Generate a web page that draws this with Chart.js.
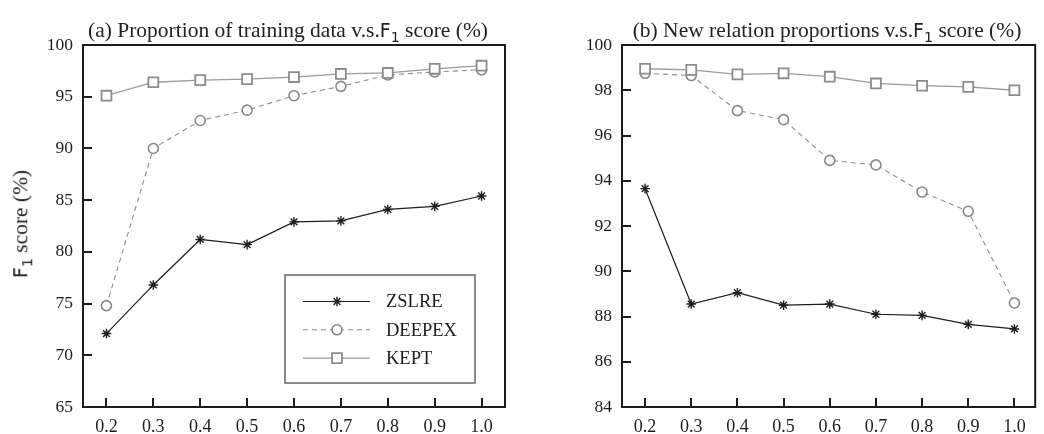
<!DOCTYPE html>
<html>
<head>
<meta charset="utf-8">
<script src="https://cdn.jsdelivr.net/npm/chart.js@4.4.0/dist/chart.umd.min.js"></script>
<style>
  html, body { margin: 0; padding: 0; background: #fff; }
  #wrap { position: relative; width: 1044px; height: 434px; overflow: hidden; }
  canvas { position: absolute; top: 0; }
  .title {
    position: absolute; top: 19px; transform: translateX(-50%);
    white-space: nowrap; font-family: "Liberation Serif", serif;
    font-size: 21.5px; line-height: 22px; color: #222;
  }
  .ylab {
    position: absolute; left: 22px; top: 224px;
    transform: translate(-50%, -50%) rotate(-90deg);
    white-space: nowrap; font-family: "Liberation Serif", serif;
    font-size: 21.5px; line-height: 21.5px; color: #222;
  }
  .sf { font-family: "DejaVu Sans", "Liberation Sans", sans-serif; font-size: 0.88em; }
  .sub { font-size: 0.75em; position: relative; top: 0.32em; }
</style>
</head>
<body>
<div id="wrap">
  <canvas id="left" width="520" height="434" style="left:0px"></canvas>
  <canvas id="right" width="524" height="434" style="left:520px"></canvas>
  <div class="title" style="left:288px">(a) Proportion of training data v.s.<span class="sf">F<span class="sub">1</span></span> score (%)</div>
  <div class="title" style="left:827px">(b) New relation proportions v.s.<span class="sf">F<span class="sub">1</span></span> score (%)</div>
  <div class="ylab"><span class="sf">F<span class="sub">1</span></span> score (%)</div>
</div>
<script>
// x positions shared by both panels
const proportions = [0.2, 0.3, 0.4, 0.5, 0.6, 0.7, 0.8, 0.9, 1.0];
const seriesNames = ["ZSLRE", "DEEPEX", "KEPT"];

// (a) proportion of training data
const trainZSLRE  = [72.1, 76.8, 81.2, 80.7, 82.9, 83.0, 84.1, 84.4, 85.4];
const trainDEEPEX = [74.8, 90.0, 92.7, 93.7, 95.1, 96.0, 97.1, 97.4, 97.6];
const trainKEPT   = [95.1, 96.4, 96.6, 96.7, 96.9, 97.2, 97.3, 97.7, 98.0];

// (b) new relation proportions
const newZSLRE  = [93.65, 88.55, 89.05, 88.5, 88.55, 88.1, 88.05, 87.65, 87.45];
const newDEEPEX = [98.75, 98.65, 97.1, 96.7, 94.9, 94.7, 93.5, 92.65, 88.6];
const newKEPT   = [98.95, 98.9, 98.7, 98.75, 98.6, 98.3, 98.2, 98.15, 98.0];

const X_FONT = { family: "'Liberation Serif', serif", size: 18 };
const Y_FONT = { family: "'Liberation Serif', serif", size: 17.5 };
const INK = "#1c1c1c";

const styles = {
  ZSLRE:  { borderColor: "#1e1e1e", borderWidth: 1.2, pointStyle: "star", pointRadius: 4.8,
            pointBorderColor: "#1e1e1e", pointBorderWidth: 1.4, pointBackgroundColor: "#1e1e1e", order: 1 },
  DEEPEX: { borderColor: "#8e8e8e", borderWidth: 1.1, borderDash: [5, 4], pointStyle: "circle", pointRadius: 5,
            pointBorderColor: "#888", pointBorderWidth: 1.6, pointBackgroundColor: "#fff", order: 2 },
  KEPT:   { borderColor: "#9a9a9a", borderWidth: 1.3, pointStyle: "rect", pointRadius: 7,
            pointBorderColor: "#8c8c8c", pointBorderWidth: 1.8, pointBackgroundColor: "#fff", order: 0 }
};

function toPoints(vals) {
  return proportions.map((x, i) => ({ x: x, y: vals[i] }));
}

// frame box and inward tick marks
const framePlugin = {
  id: "frame",
  afterDraw(chart) {
    const { ctx, chartArea: a, scales } = chart;
    ctx.save();
    ctx.strokeStyle = INK;
    ctx.lineWidth = 2;
    ctx.beginPath();
    scales.x.ticks.forEach(t => {
      const px = Math.round(scales.x.getPixelForValue(t.value));
      ctx.moveTo(px, a.bottom);
      ctx.lineTo(px, a.bottom - 9);
    });
    scales.y.ticks.forEach(t => {
      const py = Math.round(scales.y.getPixelForValue(t.value));
      ctx.moveTo(a.left, py);
      ctx.lineTo(a.left + 9, py);
    });
    ctx.stroke();
    ctx.strokeRect(a.left, a.top, a.right - a.left, a.bottom - a.top);
    ctx.restore();
  }
};

// boxed legend in the lower right of the plot
const boxLegendPlugin = {
  id: "boxLegend",
  afterDraw(chart, args, opts) {
    if (!opts.show) return;
    const { ctx, chartArea: a } = chart;
    const bx = a.left + opts.dx, by = a.top + opts.dy;
    ctx.save();
    ctx.strokeStyle = "#666";
    ctx.lineWidth = 1.5;
    ctx.strokeRect(bx, by, opts.w, opts.h);
    chart.data.datasets.forEach((ds, i) => {
      const cy = by + 26.5 + i * 28.3;
      const x0 = bx + 18, x1 = bx + 85, cx = bx + 52;
      ctx.save();
      ctx.strokeStyle = ds.borderColor;
      ctx.lineWidth = ds.borderWidth;
      ctx.setLineDash(ds.borderDash || []);
      ctx.beginPath();
      ctx.moveTo(x0, cy);
      ctx.lineTo(x1, cy);
      ctx.stroke();
      ctx.restore();
      ctx.save();
      ctx.strokeStyle = ds.pointBorderColor;
      ctx.fillStyle = ds.pointBackgroundColor;
      ctx.lineWidth = ds.pointBorderWidth;
      Chart.helpers.drawPoint(ctx, {
        pointStyle: ds.pointStyle, radius: ds.pointRadius, rotation: 0,
        borderWidth: ds.pointBorderWidth
      }, cx, cy);
      ctx.restore();
      ctx.fillStyle = INK;
      ctx.font = "18.5px 'Liberation Serif', serif";
      ctx.textBaseline = "middle";
      ctx.fillText(ds.label, bx + 101, cy + 1);
    });
    ctx.restore();
  }
};

function makePanel(id, values, xMax, yMin, yMax, yStep, yAxisWidth, padRight, legend) {
  const datasets = seriesNames.map((name, i) => Object.assign({
    label: name, data: toPoints(values[i]), tension: 0, fill: false, clip: false
  }, styles[name]));
  return new Chart(document.getElementById(id), {
    type: "line",
    data: { datasets },
    options: {
      responsive: false,
      animation: false,
      events: [],
      layout: { padding: { top: 45, left: 0, right: padRight, bottom: 0 } },
      scales: {
        x: {
          type: "linear", min: 0.15, max: xMax,
          grid: { display: false, drawTicks: false }, border: { display: false },
          afterBuildTicks: s => { s.ticks = proportions.map(v => ({ value: v })); },
          afterFit: s => { s.height = 27; },
          ticks: { font: X_FONT, color: INK, padding: 9, maxRotation: 0,
                   callback: v => Number(v).toFixed(1) }
        },
        y: {
          min: yMin, max: yMax,
          grid: { display: false, drawTicks: false }, border: { display: false },
          afterFit: s => { s.width = yAxisWidth; },
          ticks: { stepSize: yStep, font: Y_FONT, color: INK, padding: 10 }
        }
      },
      plugins: {
        legend: { display: false },
        tooltip: { enabled: false },
        boxLegend: legend
      }
    },
    plugins: [framePlugin, boxLegendPlugin]
  });
}

makePanel("left", [trainZSLRE, trainDEEPEX, trainKEPT], 1.05, 65, 100, 5, 83, 15,
          { show: true, dx: 202, dy: 230, w: 190, h: 108 });
makePanel("right", [newZSLRE, newDEEPEX, newKEPT], 1.045, 84, 100, 2, 102, 2,
          { show: false });
</script>
</body>
</html>
